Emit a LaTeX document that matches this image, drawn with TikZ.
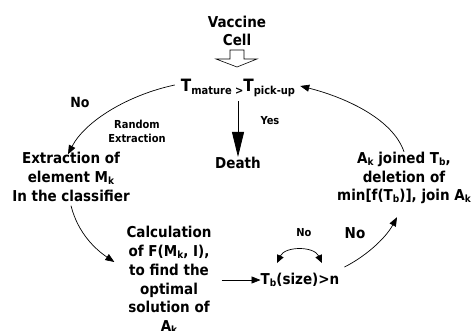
\documentclass[tikz,border=0pt]{standalone}
\usepackage{fontspec}
\setmainfont{DejaVu Sans Condensed}[BoldFont={DejaVu Sans Condensed Bold}]
\usetikzlibrary{arrows.meta}
\newcommand\lsub[1]{\raisebox{-2pt}{\fontsize{10}{12}\selectfont #1}}
\newcommand\tsub[1]{\raisebox{-3pt}{\fontsize{11}{13}\selectfont #1}}
\tikzset{
  big/.style={font=\bfseries\fontsize{15}{18.7}\selectfont, align=center, inner sep=0pt},
  small/.style={font=\bfseries\fontsize{11}{14}\selectfont, align=center, inner sep=0pt},
  arr/.style={-{Triangle[length=9pt,width=7pt]}, line width=0.7pt},
  dblarr/.style={{Triangle[length=8pt,width=7pt]}-{Triangle[length=8pt,width=7pt]}, line width=0.7pt},
  bigarr/.style={-{Triangle[length=25pt,width=12pt]}, line width=0.8pt},
}
\begin{document}
\begin{tikzpicture}[x=1pt,y=-1pt]
\useasboundingbox (0,0) rectangle (473,331);
\node[big] (vac) at (237,31) {Vaccine\\Cell};
\node[big] (tm) at (238,88) {{\fontsize{17}{20}\selectfont T}\tsub{mature >}{\fontsize{17}{20}\selectfont T}\tsub{pick-up}};
\node[big] (death) at (238,163) {Death};
\node[small] (yes) at (270,121) {Yes};
\node[big,font=\bfseries\fontsize{14}{16}\selectfont] (no1) at (80,102) {No};
\node[small] (rand) at (137,131) {Random\\Extraction};
\node[big] (ext) at (71,177) {Extraction of\\element M\lsub{k}\\In the classifier};
\node[big] (calc) at (169,280) {Calculation\\of F(M\lsub{k}, I),\\to find the\\optimal\\solution of\\A\lsub{k}};
\node[big] (tb) at (300,280) {T\lsub{b}(size)>n};
\node[big] (akj) at (404,178) {A\lsub{k} joined T\lsub{b},\\deletion of\\min[f(T\lsub{b})], join A\lsub{k}};
\node[small] (no2) at (304,233) {No};
\node[big] (no3) at (355,233) {No};
% hollow arrow from vac to tm
\draw[line width=0.6pt] (230,50) -- (244,50) -- (244,59) -- (257,59) -- (237,67) -- (216,59) -- (230,59) -- cycle;
% connectors
\draw[arr] ([shift={(-6pt,3pt)}]tm.west) .. controls +(-47,10) and +(17,-33) .. ([shift={(-3pt,-2pt)}]ext.north);
\draw[bigarr] ([yshift=-4pt]tm.south) -- (death.north);
\draw[arr] ([yshift=-4pt]ext.south) .. controls +(7,28) and +(-18,-12) .. ([shift={(-12pt,18pt)}]calc.west);
\draw[arr] ([xshift=10pt]calc.east) -- (tb.west);
\draw[dblarr] ([shift={(-23pt,10pt)}]tb.north) .. controls +(8,-17) and +(-8,-17) .. ([shift={(22pt,10pt)}]tb.north);
\draw[arr] ([shift={(5pt,13pt)}]tb.east) .. controls +(20,-10) and +(-12,22) .. ([shift={(-7pt,-13pt)}]akj.south);
\draw[arr] (akj.north) .. controls +(-12,-35) and +(40,10) .. ([shift={(5pt,2pt)}]tm.east);
\end{tikzpicture}
\end{document}
